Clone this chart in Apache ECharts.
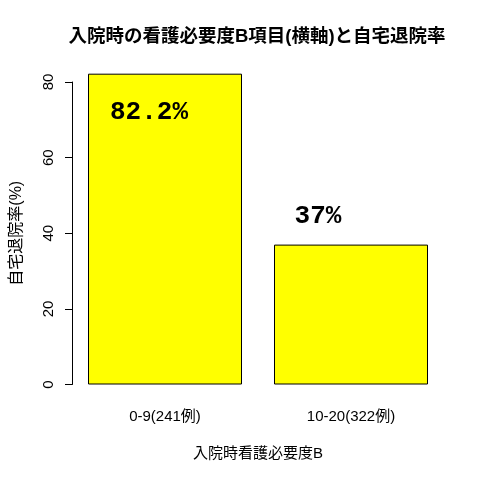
<!DOCTYPE html>
<html>
<head>
<meta charset="utf-8">
<script src="https://cdn.jsdelivr.net/npm/echarts@6/dist/echarts.min.js"></script>
<style>
  html, body { margin: 0; padding: 0; background: #fff; }
  #main { width: 480px; height: 480px; }
</style>
</head>
<body>
<div id="main"></div>
<script>
// データ
var categories = ['0-9(241例)', '10-20(322例)'];
var rates = [82.2, 37];
var yTicks = [0, 20, 40, 60, 80];

var fontJp = "'Liberation Sans', 'Noto Sans CJK JP', sans-serif";

// 数値ラベルの位置（棒の左上からの相対）
var labelPos = [[61, 39], [44, -28]];

var chart = echarts.init(document.getElementById('main'));
var option = {
    backgroundColor: '#fff',
    animation: false,
    title: {
        text: '入院時の看護必要度B項目(横軸)と自宅退院率',
        left: 257,
        top: 28,
        padding: 0,
        textAlign: 'center',
        textStyle: {
            fontFamily: fontJp,
            fontSize: 18.5,
            fontWeight: 'bold',
            color: '#000'
        }
    },
    grid: {
        left: 72,
        right: 36,
        top: 82,
        bottom: 95.5
    },
    xAxis: {
        type: 'category',
        data: categories,
        axisLine: { show: false },
        axisTick: { show: false },
        axisLabel: {
            margin: 25,
            fontFamily: fontJp,
            fontSize: 15,
            color: '#000'
        },
        name: '入院時看護必要度B',
        nameLocation: 'middle',
        nameGap: 62,
        nameTextStyle: {
            fontFamily: fontJp,
            fontSize: 15,
            color: '#000'
        }
    },
    yAxis: {
        type: 'value',
        min: yTicks[0],
        max: yTicks[yTicks.length - 1],
        interval: 20,
        splitLine: { show: false },
        axisLine: { show: true, lineStyle: { color: '#000', width: 1 } },
        axisTick: { show: true, length: 7, lineStyle: { color: '#000' } },
        axisLabel: {
            rotate: 90,
            margin: 16,
            fontFamily: fontJp,
            fontSize: 15,
            color: '#000'
        },
        name: '自宅退院率(%)',
        nameLocation: 'middle',
        nameRotate: 90,
        nameGap: 47,
        nameTextStyle: {
            fontFamily: fontJp,
            fontSize: 16,
            color: '#000'
        }
    },
    series: [{
        type: 'bar',
        clip: false,
        barWidth: 154,
        data: rates.map(function (v, i) {
            return {
                value: v,
                label: {
                    show: true,
                    position: labelPos[i],
                    align: 'center',
                    verticalAlign: 'middle',
                    formatter: '{c}%',
                    fontFamily: "'Liberation Mono', monospace",
                    fontWeight: 'bold',
                    fontSize: 26,
                    color: '#000'
                }
            };
        }),
        itemStyle: {
            color: '#ffff00',
            borderColor: '#000',
            borderWidth: 1
        }
    }]
};
chart.setOption(option);
</script>
</body>
</html>
